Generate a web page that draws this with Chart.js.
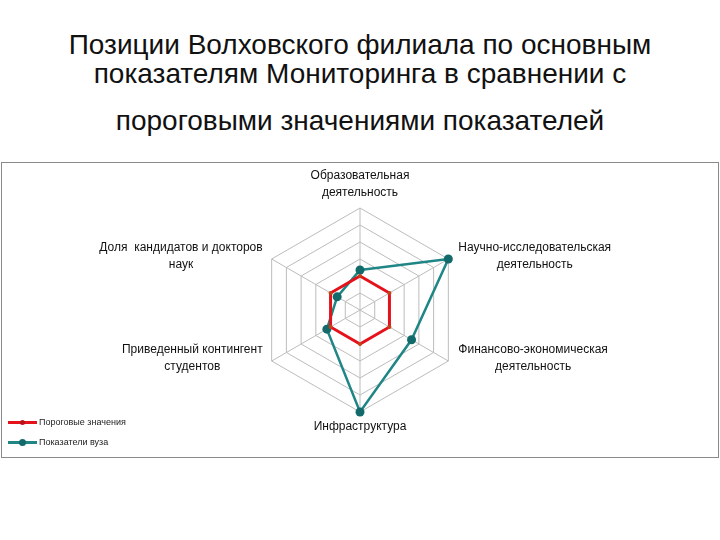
<!DOCTYPE html>
<html>
<head>
<meta charset="utf-8">
<script src="https://cdn.jsdelivr.net/npm/chart.js@4.4.1/dist/chart.umd.min.js"></script>
<style>
  html, body { margin: 0; padding: 0; background: #fff; }
  #page { position: relative; width: 720px; height: 540px; overflow: hidden; }
  .title { position: absolute; left: 0; width: 720px; text-align: center;
           font-family: "Liberation Sans", Arial, sans-serif; font-size: 28px; color: #111; line-height: 29px; }
  #frame { position: absolute; left: 1px; top: 162px; width: 716px; height: 294px; border: 1px solid #8a8a8a; }
  #chartWrap { position: absolute; left: 0; top: 0; width: 720px; height: 540px; }
  .leg { position: absolute; left: 8px; height: 12px; font-family: "Liberation Sans", Arial, sans-serif; font-size: 9px; color: #222; }
  .leg .ln { position: absolute; left: 0; top: 5px; width: 29px; height: 3px; }
  .leg .mk { position: absolute; left: 11px; top: 3px; width: 7px; height: 7px; border-radius: 50%; }
  .leg .tx { position: absolute; left: 31px; top: 0; white-space: nowrap; line-height: 12px; }
</style>
</head>
<body>
<div id="page">
  <div class="title" style="top:30px;">Позиции Волховского филиала по основным<br>показателям Мониторинга в сравнении с</div>
  <div class="title" style="top:106px;">пороговыми значениями показателей</div>
  <div id="frame"></div>
  <div id="chartWrap"><canvas id="c" width="720" height="540"></canvas></div>
  <div class="leg" style="top:416px;"><div class="ln" style="background:#e5121b"></div><div class="mk" style="left:12px;top:4px;width:5px;height:5px;background:#b5121a"></div><div class="tx">Пороговые значения</div></div>
  <div class="leg" style="top:436px;"><div class="ln" style="background:#1f8585"></div><div class="mk" style="background:#136a6a"></div><div class="tx">Показатели вуза</div></div>
</div>
<script>
const categories = [
  ["Образовательная", "деятельность"],
  ["Научно-исследовательская", "деятельность"],
  ["Финансово-экономическая", "деятельность"],
  ["Инфраструктура"],
  ["Приведенный контингент", "студентов"],
  ["Доля  кандидатов и докторов", "наук"]
];
const seriesNames = ["Пороговые значения", "Показатели вуза"];
const thresholdValues = [2, 2, 2, 2, 2, 2];
const vuzValues = [2.35, 6, 3.5, 6, 2.25, 1.55];
const axisMin = 0, axisMax = 6, axisStep = 1;

const labelFont = '12px "Liberation Sans", Arial, sans-serif';

const pointLabelPlugin = {
  id: 'excelPointLabels',
  afterDraw(chart) {
    const scale = chart.scales.r;
    const ctx = chart.ctx;
    ctx.save();
    ctx.font = labelFont;
    ctx.fillStyle = '#111';
    ctx.textBaseline = 'middle';
    const lh = 17;
    const n = categories.length;
    for (let i = 0; i < n; i++) {
      const lines = categories[i];
      const p = scale.getPointPosition(i, scale.drawingArea);
      const w = Math.max(...lines.map(l => ctx.measureText(l).width));
      const bh = lines.length * lh;
      let cx, top;
      const ang = i * 360 / n;
      if (ang === 0) { cx = p.x; top = p.y - 7 - bh; }
      else if (ang === 180) { cx = p.x; top = p.y + 6; }
      else if (ang < 180) { cx = p.x + 10 + w / 2; top = p.y - 3 - bh / 2; }
      else { cx = p.x - 9 - w / 2; top = p.y - 3 - bh / 2; }
      ctx.textAlign = 'center';
      lines.forEach((l, k) => ctx.fillText(l, cx, top + lh * k + lh / 2));
    }
    ctx.restore();
  }
};

new Chart(document.getElementById('c'), {
  type: 'radar',
  data: {
    labels: categories,
    datasets: [
      {
        label: seriesNames[0],
        data: thresholdValues,
        borderColor: '#e5121b',
        backgroundColor: 'rgba(0,0,0,0)',
        borderWidth: 3,
        pointRadius: 2,
        pointBackgroundColor: '#c0441a',
        pointBorderColor: '#c0441a',
        pointBorderWidth: 0,
        fill: false
      },
      {
        label: seriesNames[1],
        data: vuzValues,
        borderColor: '#1f8585',
        backgroundColor: 'rgba(0,0,0,0)',
        borderWidth: 2.5,
        pointRadius: 4.5,
        pointBackgroundColor: '#136a6a',
        pointBorderColor: '#136a6a',
        pointBorderWidth: 0,
        fill: false
      }
    ]
  },
  options: {
    responsive: false,
    animation: false,
    layout: { padding: { top: 208, bottom: 128, left: 200, right: 200 } },
    plugins: { legend: { display: false }, tooltip: { enabled: false } },
    elements: { line: { tension: 0 } },
    scales: {
      r: {
        min: axisMin, max: axisMax,
        ticks: { stepSize: axisStep, display: false },
        grid: { color: '#bcbcbc', lineWidth: 1 },
        angleLines: { color: '#bcbcbc', lineWidth: 1 },
        pointLabels: { display: false }
      }
    }
  },
  plugins: [pointLabelPlugin]
});
</script>
</body>
</html>
